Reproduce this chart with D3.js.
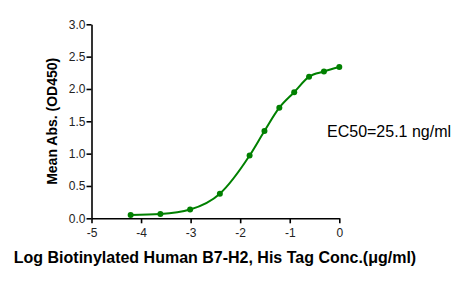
<!DOCTYPE html>
<html>
<head>
<meta charset="utf-8">
<script src="https://cdn.jsdelivr.net/npm/d3@7"></script>
<style>
	body { margin: 0; background: #fff; }
	svg { display: block; }
</style>
</head>
<body>
<svg id="chart" width="466" height="281"></svg>
<script>
// log10 concentration (ug/ml) and mean OD450
const logConc = [-4.21, -3.61, -3.01, -2.41, -1.81, -1.51, -1.21, -0.91, -0.61, -0.31, 0];
const meanAbs = [0.05, 0.065, 0.135, 0.38, 0.97, 1.35, 1.71, 1.95, 2.19, 2.27, 2.34];
const xTicks = [-5, -4, -3, -2, -1, 0];
const yTicks = [0, 0.5, 1.0, 1.5, 2.0, 2.5, 3.0];
const ec50Label = "EC50=25.1 ng/ml";

const svg = d3.select("#chart");
const green = "#008000";
const font = "Arial, 'Liberation Sans', sans-serif";

const x = d3.scaleLinear().domain([-5, 0]).range([91.5, 339.3]);
const y = d3.scaleLinear().domain([0, 3]).range([218.3, 24.3]);

const points = logConc.map((v, i) => ({ x: v, y: meanAbs[i] }));

// axes
const xAxis = svg
	.append("g")
	.attr("transform", `translate(0,${y(0)})`)
	.call(d3.axisBottom(x).tickValues(xTicks).tickFormat((d) => String(d)).tickSize(5).tickSizeOuter(0));

const yAxis = svg
	.append("g")
	.attr("transform", `translate(${x(-5)},0)`)
	.call(d3.axisLeft(y).tickValues(yTicks).tickFormat((d) => d.toFixed(1)).tickSize(5).tickSizeOuter(0));

[xAxis, yAxis].forEach((g) => {
	g.select(".domain").attr("stroke", "#000").attr("stroke-width", 1.6);
	g.selectAll(".tick line").attr("stroke", "#000").attr("stroke-width", 1.6);
	g.selectAll(".tick text")
		.attr("font-family", font)
		.attr("font-size", "12px")
		.attr("fill", "#222");
});
xAxis.selectAll(".tick text").attr("dy", "0.9em");
yAxis.selectAll(".tick text").attr("x", -6);

// fitted curve (smooth through the points)
const line = d3
	.line()
	.x((d) => x(d.x))
	.y((d) => y(d.y))
	.curve(d3.curveMonotoneX);

svg.append("path")
	.datum(points)
	.attr("d", line)
	.attr("fill", "none")
	.attr("stroke", green)
	.attr("stroke-width", 2);

svg.selectAll(".dot")
	.data(points)
	.enter()
	.append("circle")
	.attr("class", "dot")
	.attr("cx", (d) => x(d.x))
	.attr("cy", (d) => y(d.y))
	.attr("r", 3)
	.attr("fill", green);

// labels
svg.append("text")
	.attr("transform", `translate(57,${(y(0) + y(3)) / 2}) rotate(-90)`)
	.attr("text-anchor", "middle")
	.attr("font-family", font)
	.attr("font-size", "14px")
	.attr("font-weight", "bold")
	.attr("fill", "#000")
	.text("Mean Abs. (OD450)");

svg.append("text")
	.attr("x", 215)
	.attr("y", 263)
	.attr("text-anchor", "middle")
	.attr("font-family", font)
	.attr("font-size", "16px")
	.attr("font-weight", "bold")
	.attr("fill", "#000")
	.text("Log Biotinylated Human B7-H2, His Tag Conc.(\u03bcg/ml)");

svg.append("text")
	.attr("x", 327)
	.attr("y", 137)
	.attr("font-family", font)
	.attr("font-size", "16px")
	.attr("fill", "#000")
	.text(ec50Label);
</script>
</body>
</html>
